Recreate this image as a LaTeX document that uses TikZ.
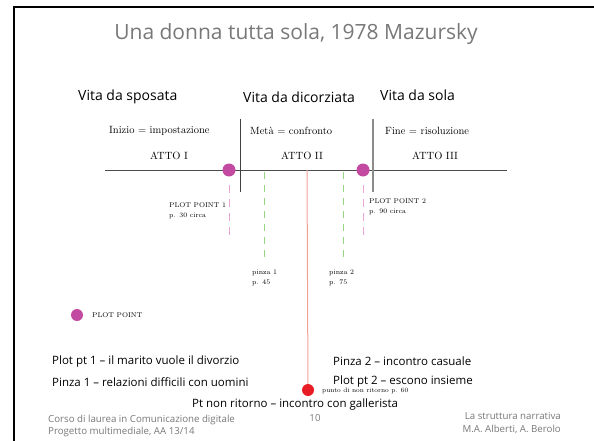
\documentclass[tikz,border=0pt]{standalone}
\usepackage{fontspec}
\newfontfamily\slidefont{Open Sans}[Ligatures=TeX]
\definecolor{plotpt}{RGB}{194,74,160}
\definecolor{plotdash}{RGB}{232,165,215}
\definecolor{pinzagreen}{RGB}{150,214,130}
\definecolor{ritornoline}{RGB}{244,160,150}
\definecolor{ritornodot}{RGB}{232,28,36}
\definecolor{slidegray}{RGB}{120,120,120}
\tikzset{
  heading/.style={font=\slidefont\fontsize{14}{16}\selectfont, anchor=west, inner sep=0pt},
  story/.style={font=\slidefont\fontsize{11.5}{13}\selectfont, anchor=west, inner sep=0pt},
  actlabel/.style={font=\fontsize{10.5}{12}\selectfont, inner sep=0pt},
  note/.style={font=\fontsize{6.9}{10}\selectfont, align=left, anchor=north west, inner sep=0pt},
  footer/.style={font=\slidefont\fontsize{9.7}{12.5}\selectfont, text=slidegray, inner sep=0pt},
  plotdot/.style={circle, fill=plotpt, minimum size=13pt, inner sep=0pt},
  plotline/.style={plotdash, dash pattern=on 8pt off 6pt, line width=1pt},
  pinzaline/.style={pinzagreen, dash pattern=on 7pt off 6pt, line width=0.8pt}
}
\begin{document}
\begin{tikzpicture}[x=1pt,y=-1pt]
    \useasboundingbox (0,0) rectangle (594,441);
    % Draw slide frame
    \draw[line width=1.5pt] (594,7) -- (14,7) -- (14,441);
    % Draw title
    \node[font=\slidefont\fontsize{21}{24}\selectfont, text=slidegray] (title) at (296,34) {Una donna tutta sola, 1978 Mazursky};
    % Draw headings
    \node[heading] (sposata) at (78,97) {Vita da sposata};
    \node[heading] (divorziata) at (243,97) {Vita da dicorziata};
    \node[heading] (sola) at (380,95) {Vita da sola};
    % Draw acts
    \node[actlabel, anchor=west] (inizio) at (109,131) {Inizio = impostazione};
    \node[actlabel, anchor=west] (meta) at (250,131) {Metà = confronto};
    \node[actlabel, anchor=west] (fine) at (385,131) {Fine = risoluzione};
    \node[actlabel] (atto1) at (169,156) {ATTO I};
    \node[actlabel] (atto2) at (302,156) {ATTO II};
    \node[actlabel] (atto3) at (435,156) {ATTO III};
    % Draw time line and separators
    \coordinate (start) at (105,170);
    \coordinate (end) at (507,170);
    \coordinate (sepA) at (240,119);
    \coordinate (sepB) at (373,119);
    \draw[black!70, line width=0.8pt] (start) -- (end);
    \draw[black!75, line width=0.8pt] (sepA) -- (240,192);
    \draw[black!45, line width=1.3pt] (sepB) -- (373,192);
    % Draw pinze
    \coordinate (pinza1) at (264,172);
    \coordinate (pinza2) at (343,172);
    \draw[pinzaline] (pinza1) -- ++(0,91);
    \draw[pinzaline] (pinza2) -- ++(0,91);
    \node[note] (pinza1text) at (252,270) {pinza 1\\p. 45};
    \node[note] (pinza2text) at (329,270) {pinza 2\\p. 75};
    % Draw point of no return
    \coordinate (meta60) at (307,170);
    \node[circle, fill=ritornodot, minimum size=12pt, inner sep=0pt] (ritorno) at (308,390) {};
    \draw[ritornoline, line width=1pt] (meta60) -- (ritorno);
    \node[note, anchor=west, font=\fontsize{6.5}{8}\selectfont] (ritornotext) at (322,391) {punto di non ritorno p. 60};
    % Draw plot points
    \draw[plotline] (229,185) -- (229,235);
    \draw[plotline] (363,185) -- (363,235);
    \node[plotdot] (pp1) at (229,170) {};
    \node[plotdot] (pp2) at (363,170) {};
    \node[note] (pp1text) at (169,202) {PLOT POINT 1\\p. 30 circa};
    \node[note] (pp2text) at (369,198) {PLOT POINT 2\\p. 90 circa};
    % Draw legend
    \node[plotdot, minimum size=12pt] (legenddot) at (77,315) {};
    \node[note, anchor=west] (legendtext) at (92,315) {PLOT POINT};
    % Draw story text
    \node[story] (story1) at (52,362) {Plot pt 1 -- il marito vuole il divorzio};
    \node[story] (story2) at (52,382) {Pinza 1 -- relazioni difficili con uomini};
    \node[story] (story3) at (333,361) {Pinza 2 -- incontro casuale};
    \node[story] (story4) at (333,382) {Plot pt 2 -- escono insieme};
    \node[story] (story5) at (192,405) {Pt non ritorno -- incontro con gallerista};
    % Draw footer
    \node[footer, align=left, anchor=west] (corso) at (48,426) {Corso di laurea in Comunicazione digitale\\Progetto multimediale, AA 13/14};
    \node[footer] (pagina) at (315,418) {10};
    \node[footer, align=right, anchor=east] (autori) at (561,423) {La struttura narrativa\\M.A. Alberti, A. Berolo};
\end{tikzpicture}
\end{document}
